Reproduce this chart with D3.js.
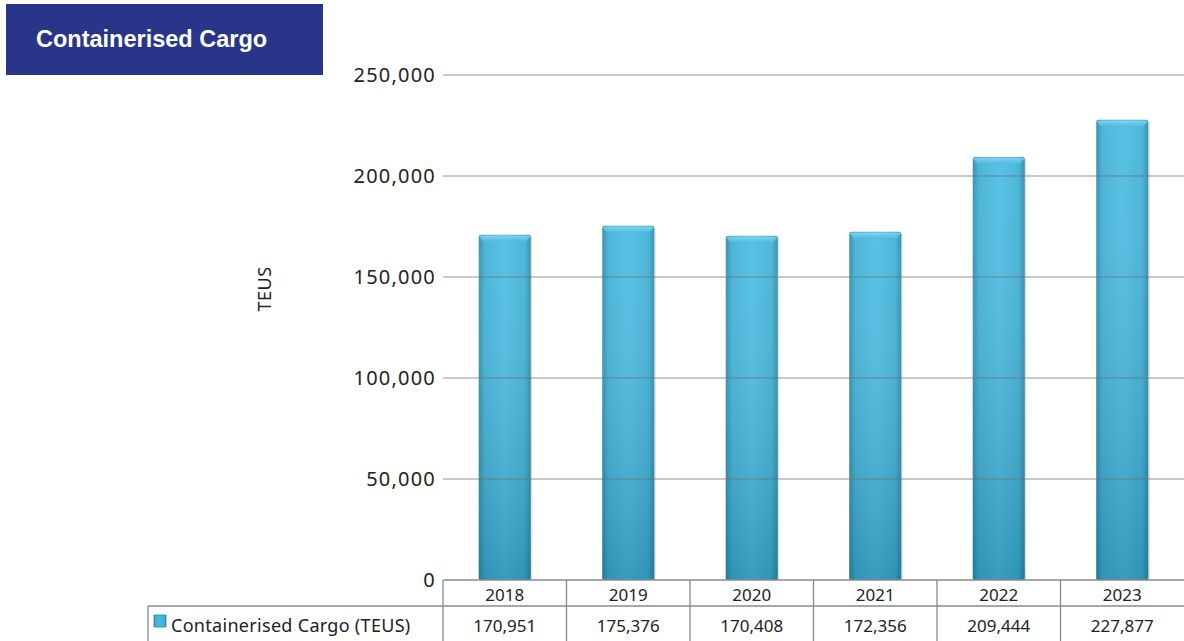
<!DOCTYPE html>
<html>
<head>
<meta charset="utf-8">
<script src="https://cdn.jsdelivr.net/npm/d3@7"></script>
<style>
  body { margin: 0; background: #fff; }
  svg { display: block; }
</style>
</head>
<body>
<div id="chart"></div>
<script>
const years = ["2018", "2019", "2020", "2021", "2022", "2023"];
const teus = [170951, 175376, 170408, 172356, 209444, 227877];
const yTicks = [0, 50000, 100000, 150000, 200000, 250000];
const seriesName = "Containerised Cargo (TEUS)";
const title = "Containerised Cargo";

const width = 1184, height = 641;
const plotLeft = 443, plotRight = 1184, plotTop = 75, plotBottom = 580;
const font = "'Noto Sans', sans-serif";

const svg = d3.select("#chart").append("svg")
  .attr("width", width)
  .attr("height", height);

const defs = svg.append("defs");

// bar shading: darker sides, lighter middle
const hGrad = defs.append("linearGradient").attr("id", "barH")
  .attr("x1", "0%").attr("x2", "100%").attr("y1", "0%").attr("y2", "0%");
hGrad.append("stop").attr("offset", "0%").attr("stop-color", "#2a8aa8");
hGrad.append("stop").attr("offset", "12%").attr("stop-color", "#3eb0d6");
hGrad.append("stop").attr("offset", "50%").attr("stop-color", "#4abce4");
hGrad.append("stop").attr("offset", "88%").attr("stop-color", "#3eb0d6");
hGrad.append("stop").attr("offset", "100%").attr("stop-color", "#2a8aa8");

const vGrad = defs.append("linearGradient").attr("id", "barV")
  .attr("x1", "0%").attr("x2", "0%").attr("y1", "0%").attr("y2", "100%");
vGrad.append("stop").attr("offset", "0%").attr("stop-color", "#ffffff").attr("stop-opacity", 0.08);
vGrad.append("stop").attr("offset", "100%").attr("stop-color", "#0a4a60").attr("stop-opacity", 0.28);

const capGrad = defs.append("linearGradient").attr("id", "cap")
  .attr("x1", "0%").attr("x2", "0%").attr("y1", "0%").attr("y2", "100%");
capGrad.append("stop").attr("offset", "0%").attr("stop-color", "#8fd6ee");
capGrad.append("stop").attr("offset", "100%").attr("stop-color", "#4abce4");

// title box
svg.append("rect")
  .attr("x", 6).attr("y", 4)
  .attr("width", 317).attr("height", 71)
  .attr("fill", "#283589");
svg.append("text")
  .attr("x", 36).attr("y", 47)
  .attr("fill", "#fff")
  .attr("font-family", "'Liberation Sans', Arial, sans-serif")
  .attr("font-weight", "bold")
  .attr("font-size", 23.5)
  .text(title);

const x = d3.scaleBand()
  .domain(years)
  .range([plotLeft, plotRight]);

const y = d3.scaleLinear()
  .domain([0, 250000])
  .range([plotBottom, plotTop]);

// y axis labels
svg.append("g")
  .selectAll("text")
  .data(yTicks)
  .join("text")
  .attr("x", 436)
  .attr("y", d => y(d) + 7)
  .attr("text-anchor", "end")
  .attr("font-family", font)
  .attr("font-size", 20)
  .attr("letter-spacing", 1.2)
  .attr("fill", "#222")
  .text(d => d3.format(",")(d));

svg.append("text")
  .attr("transform", `translate(271, 289) rotate(-90)`)
  .attr("text-anchor", "middle")
  .attr("font-family", font)
  .attr("font-size", 18)
  .attr("letter-spacing", 0.5)
  .attr("fill", "#222")
  .text("TEUS");

// bars
const bw = 52;
const bars = svg.append("g").selectAll("g")
  .data(years.map((d, i) => ({ year: d, value: teus[i] })))
  .join("g")
  .attr("transform", d => `translate(${x(d.year) + x.bandwidth() / 2 - bw / 2}, 0)`);

bars.append("rect")
  .attr("x", 1.5).attr("y", d => y(d.value) + 2)
  .attr("width", bw).attr("height", d => plotBottom - y(d.value) - 2)
  .attr("fill", "#000").attr("opacity", 0.12);

bars.append("rect")
  .attr("y", d => y(d.value))
  .attr("width", bw)
  .attr("height", d => plotBottom - y(d.value))
  .attr("rx", 2)
  .attr("fill", "url(#barH)");

bars.append("rect")
  .attr("y", d => y(d.value))
  .attr("width", bw)
  .attr("height", d => plotBottom - y(d.value))
  .attr("fill", "url(#barV)");

bars.append("path")
  .attr("d", d => {
    const t = y(d.value);
    return `M0,${t + 1} L${bw},${t + 1} L${bw - 5},${t + 7} L5,${t + 7} Z`;
  })
  .attr("fill", "url(#cap)")
  .attr("opacity", 0.8);

// gridlines drawn over bars, faint where they cross
svg.append("g")
  .selectAll("line")
  .data(yTicks.filter(d => d > 0))
  .join("line")
  .attr("x1", plotLeft).attr("x2", plotRight)
  .attr("y1", d => y(d)).attr("y2", d => y(d))
  .attr("stroke", "#707070")
  .attr("stroke-opacity", 0.75)
  .attr("stroke-width", 1.2);

// data table
const rowTop = plotBottom, rowMid = 606, rowBot = height;
const labelLeft = 148;
const tbl = svg.append("g")
  .attr("stroke", "#8a8a8a")
  .attr("stroke-width", 1.3)
  .attr("fill", "none");

tbl.append("line").attr("x1", plotLeft).attr("x2", plotRight).attr("y1", rowTop).attr("y2", rowTop);
tbl.append("line").attr("x1", labelLeft).attr("x2", plotRight).attr("y1", rowMid).attr("y2", rowMid);
tbl.append("line").attr("x1", labelLeft).attr("x2", labelLeft).attr("y1", rowMid).attr("y2", rowBot);
tbl.selectAll("line.col")
  .data(years)
  .join("line")
  .attr("class", "col")
  .attr("x1", d => x(d)).attr("x2", d => x(d))
  .attr("y1", rowTop).attr("y2", rowBot);

svg.append("g")
  .selectAll("text")
  .data(years)
  .join("text")
  .attr("x", d => x(d) + x.bandwidth() / 2)
  .attr("y", 601)
  .attr("text-anchor", "middle")
  .attr("font-family", font)
  .attr("font-size", 17)
  .attr("fill", "#222")
  .text(d => d);

svg.append("g")
  .selectAll("text")
  .data(teus)
  .join("text")
  .attr("x", (d, i) => x(years[i]) + x.bandwidth() / 2)
  .attr("y", 632)
  .attr("text-anchor", "middle")
  .attr("font-family", font)
  .attr("font-size", 17)
  .attr("fill", "#222")
  .text(d => d3.format(",")(d));

svg.append("rect")
  .attr("x", 154).attr("y", 615)
  .attr("width", 12).attr("height", 12)
  .attr("fill", "url(#barH)")
  .attr("stroke", "#2a8aa8")
  .attr("stroke-width", 0.8);

svg.append("text")
  .attr("x", 171).attr("y", 632)
  .attr("font-family", font)
  .attr("font-size", 18)
  .attr("letter-spacing", 0.3)
  .attr("fill", "#222")
  .text(seriesName);
</script>
</body>
</html>
